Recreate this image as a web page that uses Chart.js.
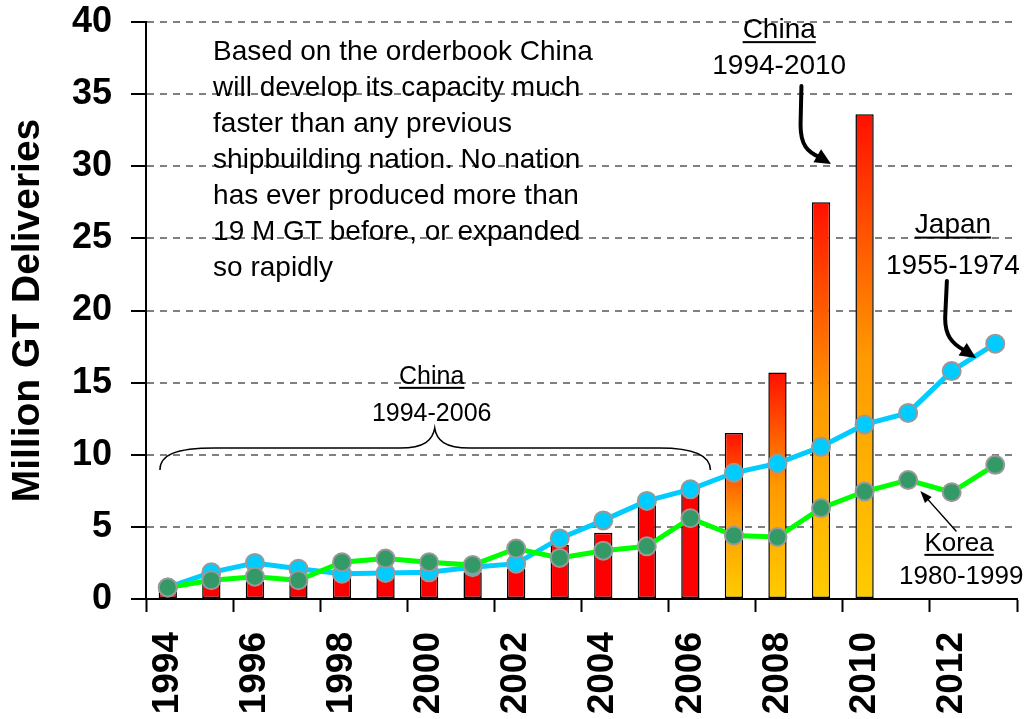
<!DOCTYPE html>
<html>
<head>
<meta charset="utf-8">
<title>Shipbuilding capacity growth</title>
<script src="https://cdn.jsdelivr.net/npm/chart.js@4.4.0/dist/chart.umd.min.js"></script>
<style>
  html, body { margin: 0; padding: 0; background: #ffffff; }
  #wrap { width: 1028px; height: 719px; }
</style>
</head>
<body>
<div id="wrap"><canvas id="gtChart" width="1028" height="719"></canvas></div>
<script>
// ========================================
// Million GT deliveries: China vs Japan vs Korea
// ========================================
const FONT = "'Liberation Sans', Arial, Helvetica, sans-serif";

// Year of the build-up (x axis), 1994 = year 1 for every nation
const YEARS = ["1994", "1995", "1996", "1997", "1998", "1999", "2000", "2001", "2002", "2003",
               "2004", "2005", "2006", "2007", "2008", "2009", "2010", "2011", "2012", "2013"];

// China 1994-2010 (bars)
const CHINA_GT = [0.8, 1.1, 1.2, 1.2, 1.6, 1.6, 1.6, 1.85, 2.1, 3.75,
                  4.6, 6.5, 7.8, 11.5, 15.7, 27.5, 33.6];
// from this year on the China bars are orderbook based (gradient fill)
const ORDERBOOK_FROM = "2007";

// Japan 1955-1974 (light blue line)
const JAPAN_GT = [0.8, 1.85, 2.5, 2.1, 1.75, 1.8, 1.85, 2.2, 2.45, 4.2,
                  5.45, 6.8, 7.6, 8.75, 9.4, 10.55, 12.1, 12.9, 15.8, 17.7];

// Korea 1980-1999 (green line)
const KOREA_GT = [0.8, 1.3, 1.55, 1.3, 2.55, 2.8, 2.55, 2.35, 3.5, 2.85,
                  3.35, 3.65, 5.6, 4.4, 4.3, 6.3, 7.45, 8.25, 7.4, 9.3];

const Y_TICKS = { min: 0, max: 40, step: 5 };

const NOTE_LINES = [
  "Based on the orderbook China",
  "will develop its capacity much",
  "faster than any previous",
  "shipbuilding nation. No nation",
  "has ever produced more than",
  "19 M GT before, or expanded",
  "so rapidly"
];

// Utility: red -> orange -> yellow fill for each orderbook bar
function barFill(c) {
  const i = c.dataIndex;
  if (i === undefined || i < YEARS.indexOf(ORDERBOOK_FROM)) return "#FF0000";
  const y = c.chart.scales.y;
  if (!y) return "#FF9900";
  const top = y.getPixelForValue(CHINA_GT[i]);
  const base = y.getPixelForValue(0);
  const g = c.chart.ctx.createLinearGradient(0, top, 0, base);
  g.addColorStop(0, "#FF1000");
  g.addColorStop(0.5, "#FF9900");
  g.addColorStop(1, "#FFCC00");
  return g;
}

// ======================================================
// Annotations (positions in category index / GT units)
// ======================================================
const annotations = {
  id: "annotations",
  afterDraw(chart) {
    const { ctx, scales: { x, y } } = chart;
    const P = (i, v) => [x.getPixelForValue(i), y.getPixelForValue(v)];

    function text(str, i, v, size, align, underline) {
      const [px, py] = P(i, v);
      ctx.save();
      ctx.font = `${size}px ${FONT}`;
      ctx.fillStyle = "#000";
      ctx.textAlign = align;
      ctx.textBaseline = "middle";
      ctx.fillText(str, px, py);
      if (underline) {
        const w = ctx.measureText(str).width;
        const x0 = align === "center" ? px - w / 2 : px;
        ctx.fillRect(x0, py + size * 0.4, w, 2);
      }
      ctx.restore();
    }

    function arrow(pts, width, headLen, headW) {
      // pts: start, [line-to], cp1, cp2, end, tip
      const p = pts.map(q => P(q[0], q[1]));
      ctx.save();
      ctx.strokeStyle = "#000";
      ctx.fillStyle = "#000";
      ctx.lineWidth = width;
      ctx.lineCap = "round";
      ctx.beginPath();
      ctx.moveTo(p[0][0], p[0][1]);
      if (p.length === 2) {
        const [tx, ty] = p[1];
        const a = Math.atan2(ty - p[0][1], tx - p[0][0]);
        ctx.lineTo(tx - Math.cos(a) * headLen * 0.8, ty - Math.sin(a) * headLen * 0.8);
      } else {
        ctx.lineTo(p[1][0], p[1][1]);
        ctx.bezierCurveTo(p[2][0], p[2][1], p[3][0], p[3][1], p[4][0], p[4][1]);
      }
      ctx.stroke();
      const tip = p[p.length - 1];
      const from = p[p.length - 2];
      const a = Math.atan2(tip[1] - from[1], tip[0] - from[0]);
      const bx = tip[0] - Math.cos(a) * headLen;
      const by = tip[1] - Math.sin(a) * headLen;
      ctx.beginPath();
      ctx.moveTo(tip[0], tip[1]);
      ctx.lineTo(bx + Math.sin(a) * headW / 2, by - Math.cos(a) * headW / 2);
      ctx.lineTo(bx - Math.sin(a) * headW / 2, by + Math.cos(a) * headW / 2);
      ctx.closePath();
      ctx.fill();
      ctx.restore();
    }

    // note block
    NOTE_LINES.forEach((line, k) => text(line, 1.04, 37.9 - k * 2.5, 28, "left", false));

    // China 1994-2010
    text("China", 14.04, 39.45, 28, "center", true);
    text("1994-2010", 14.04, 36.95, 28, "center", false);
    arrow([[14.55, 35.56], [14.53, 32.86], [14.53, 31.47], [14.69, 30.99], [14.96, 30.64], [15.23, 30.16]], 4, 16, 15);

    // Japan 1955-1974
    text("Japan", 18.03, 25.9, 28, "center", true);
    text("1955-1974", 18.03, 23.1, 28, "center", false);
    arrow([[17.89, 22.05], [17.85, 19.48], [17.85, 18.3], [17.99, 17.75], [18.28, 17.26], [18.56, 16.71]], 4, 16, 15);

    // Korea 1980-1999
    text("Korea", 18.17, 3.85, 26, "center", true);
    text("1980-1999", 18.22, 1.55, 26, "center", false);
    arrow([[18.1, 4.71], [17.28, 7.49]], 1.5, 12, 9);

    // China 1994-2006 with brace
    text("China", 6.06, 15.4, 25, "center", true);
    text("1994-2006", 6.06, 12.85, 25, "center", false);
    const b = [
      [-0.18, 8.94], [-0.18, 9.98], [0.17, 10.47], [1.08, 10.47],
      [5.33, 10.47], [5.9, 10.47], [6.08, 11.02], [6.13, 11.85],
      [6.17, 11.02], [6.36, 10.47], [6.93, 10.47],
      [11.29, 10.47], [12.09, 10.47], [12.46, 9.98], [12.46, 8.94]
    ].map(q => P(q[0], q[1]));
    ctx.save();
    ctx.strokeStyle = "#000";
    ctx.lineWidth = 1.5;
    ctx.beginPath();
    ctx.moveTo(b[0][0], b[0][1]);
    ctx.bezierCurveTo(b[1][0], b[1][1], b[2][0], b[2][1], b[3][0], b[3][1]);
    ctx.lineTo(b[4][0], b[4][1]);
    ctx.bezierCurveTo(b[5][0], b[5][1], b[6][0], b[6][1], b[7][0], b[7][1]);
    ctx.bezierCurveTo(b[8][0], b[8][1], b[9][0], b[9][1], b[10][0], b[10][1]);
    ctx.lineTo(b[11][0], b[11][1]);
    ctx.bezierCurveTo(b[12][0], b[12][1], b[13][0], b[13][1], b[14][0], b[14][1]);
    ctx.stroke();
    ctx.restore();
  }
};

// ======================================================
// Chart
// ======================================================
const ctx = document.getElementById("gtChart").getContext("2d");

new Chart(ctx, {
  type: "bar",
  data: {
    labels: YEARS,
    datasets: [
      {
        type: "line",
        label: "Korea 1980-1999",
        data: KOREA_GT,
        order: 1,
        borderColor: "#00FF00",
        borderWidth: 5,
        tension: 0,
        fill: false,
        pointRadius: 9,
        pointBackgroundColor: "#339966",
        pointBorderColor: "#999999",
        pointBorderWidth: 2
      },
      {
        type: "line",
        label: "Japan 1955-1974",
        data: JAPAN_GT,
        order: 2,
        borderColor: "#00CCFF",
        borderWidth: 5,
        tension: 0,
        fill: false,
        pointRadius: 9,
        pointBackgroundColor: "#00CCFF",
        pointBorderColor: "#999999",
        pointBorderWidth: 2
      },
      {
        type: "bar",
        label: "China 1994-2010",
        data: CHINA_GT,
        order: 3,
        backgroundColor: barFill,
        borderColor: "#000000",
        borderWidth: 1.5,
        borderSkipped: false,
        barPercentage: 0.42,
        categoryPercentage: 1
      }
    ]
  },
  options: {
    responsive: false,
    animation: false,
    layout: { padding: { top: 22, right: 10, left: 0, bottom: 0 } },
    plugins: {
      legend: { display: false },
      tooltip: { enabled: false }
    },
    scales: {
      x: {
        offset: true,
        grid: {
          offset: true,
          drawOnChartArea: false,
          tickLength: 13,
          tickWidth: 2,
          tickColor: c => (c.index === undefined || c.index % 2 === 0) ? "#000000" : "rgba(0,0,0,0)"
        },
        border: { color: "#000000", width: 2 },
        ticks: {
          autoSkip: false,
          minRotation: 90,
          maxRotation: 90,
          padding: 20,
          color: "#000000",
          font: { family: FONT, size: 37, weight: "bold" },
          callback: (v, i) => (i % 2 === 0 ? YEARS[i] : "")
        },
        afterFit: s => {
          s.height = 120;
          s.paddingLeft = 0;
          s.paddingRight = 0;
        }
      },
      y: {
        min: Y_TICKS.min,
        max: Y_TICKS.max,
        ticks: {
          stepSize: Y_TICKS.step,
          padding: 19,
          color: "#000000",
          font: { family: FONT, size: 36, weight: "bold" }
        },
        grid: {
          color: c => (c.tick && c.tick.value === 0) ? "rgba(0,0,0,0)" : "#808080",
          lineWidth: 2,
          tickLength: 15,
          tickColor: "#000000",
          tickWidth: 2,
          tickBorderDash: []
        },
        border: { color: "#000000", width: 2, dash: [7, 6] },
        title: {
          display: true,
          text: "Million GT Deliveries",
          color: "#000000",
          font: { family: FONT, size: 39, weight: "bold", lineHeight: 1.2 },
          padding: { top: 5, bottom: 0 }
        },
        afterFit: s => {
          s.width = 146;
          s.paddingTop = 0;
          s.paddingBottom = 0;
        }
      }
    }
  },
  plugins: [annotations]
});
</script>
</body>
</html>
